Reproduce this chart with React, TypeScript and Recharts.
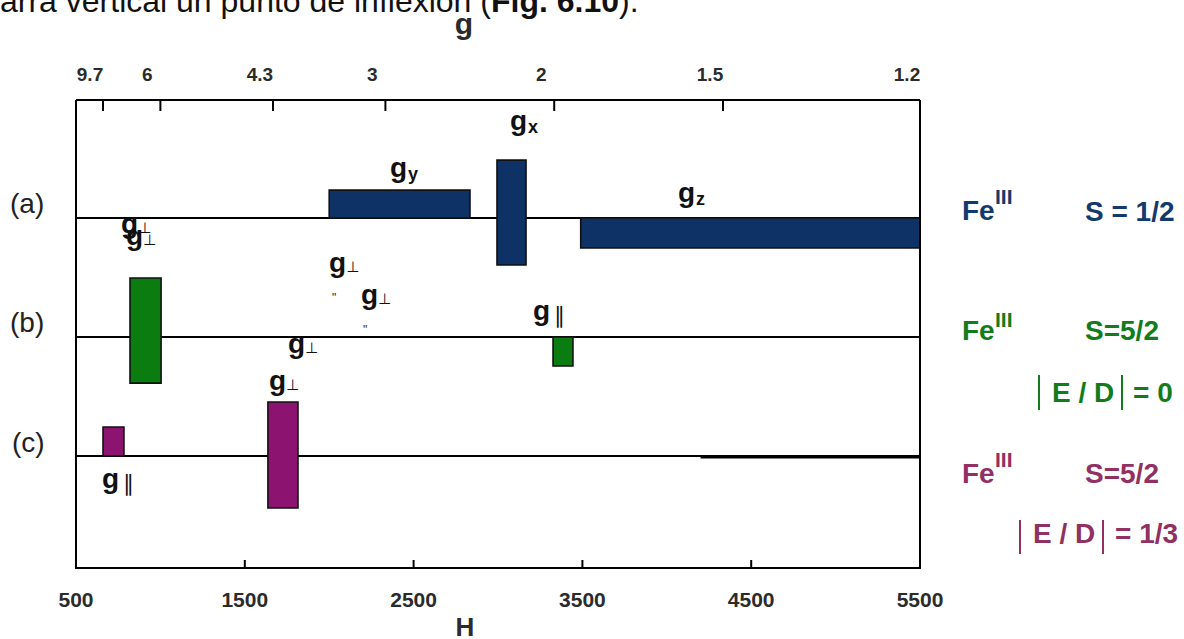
import React from 'react';
import { ComposedChart, XAxis, YAxis, ReferenceArea, ReferenceLine, Scatter } from 'recharts';

// ---- data ----
const FIELD_TICKS = [500, 1500, 2500, 3500, 4500, 5500];
const G_TICK_LABELS = ['9.7', '6', '4.3', '3', '2', '1.5', '1.2'];
const G_TICK_FIELDS = [660, 1000, 1667, 2333, 3333, 4333, 5500];
const ROW_LEVELS = [2, 1, 0]; // (a), (b), (c)

const SERIES_A = [
  { name: 'gy', from: 2000, to: 2834, low: 0, high: 0.235 },
  { name: 'gx', from: 2994, to: 3166, low: -0.395, high: 0.487 },
  { name: 'gz', from: 3490, to: 5500, low: -0.252, high: 0 },
];
const SERIES_B = [
  { name: 'g⊥', from: 820, to: 1004, low: -0.387, high: 0.496 },
  { name: 'g∥', from: 3326, to: 3444, low: -0.244, high: 0 },
];
const SERIES_C = [
  { name: 'g∥', from: 660, to: 784, low: 0, high: 0.244 },
  { name: 'g⊥', from: 1637, to: 1815, low: -0.437, high: 0.454 },
];

const LABELS = [
  { h: 2360, y: 2.345, sub: 'y', kind: 'axis' },
  { h: 3071, y: 2.739, sub: 'x', kind: 'axis' },
  { h: 4066, y: 2.134, sub: 'z', kind: 'axis' },
  { h: 767, y: 1.874, sub: '⊥', kind: 'perp' },
  { h: 796, y: 1.773, sub: '⊥', kind: 'perp' },
  { h: 1999, y: 1.546, sub: '⊥', kind: 'perp' },
  { h: 2017, y: 1.294, sub: '"', kind: 'ditto' },
  { h: 2188, y: 1.277, sub: '⊥', kind: 'perp' },
  { h: 2200, y: 1.025, sub: '"', kind: 'ditto' },
  { h: 3207, y: 1.143, sub: '∥', kind: 'par' },
  { h: 1756, y: 0.866, sub: '⊥', kind: 'perp' },
  { h: 1643, y: 0.555, sub: '⊥', kind: 'perp' },
  { h: 654, y: -0.269, sub: '∥', kind: 'par' },
];

const COLORS = ['#0e3166', '#0b7d10', '#8c1470'];
const TEXT_COLORS = ['#133a6c', '#127c1c', '#913062'];

const FONT = '"Liberation Sans", Arial, sans-serif';
const AXIS_TXT = '#2b2b2b';

const BottomTick = (p: any) => (
  <g>
    <line x1={p.x} x2={p.x} y1={p.y + 1} y2={p.y - 8} stroke="#000" strokeWidth={2} />
    <text x={p.x} y={p.y + 39} textAnchor="middle" fontFamily={FONT} fontWeight={700} fontSize={21} fill={AXIS_TXT}>
      {p.payload.value}
    </text>
  </g>
);

const TopTick = (p: any) => (
  <g>
    <line x1={p.x} x2={p.x} y1={p.y} y2={p.y + 11} stroke="#000" strokeWidth={2} />
    <text x={p.x - 13} y={p.y - 19} textAnchor="middle" fontFamily={FONT} fontWeight={700} fontSize={19} fill={AXIS_TXT}>
      {G_TICK_LABELS[p.index]}
    </text>
  </g>
);

const LabelShape = (p: any) => {
  const d = p.payload;
  if (d.kind === 'ditto') {
    return (
      <text x={p.cx} y={p.cy} fontFamily={FONT} fontSize={12} fill="#222">"</text>
    );
  }
  return (
    <text x={p.cx} y={p.cy} fontFamily={FONT} fontWeight={700} fontSize={28} fill="#111">
      g
      {d.kind === 'axis' && (
        <tspan dx={1} dy={3} fontSize={18} fontWeight={700}>{d.sub}</tspan>
      )}
      {d.kind === 'perp' && (
        <tspan dx={0} fontSize={15} fontWeight={400} fontFamily='"DejaVu Sans", sans-serif'>{d.sub}</tspan>
      )}
      {d.kind === 'par' && (
        <tspan dx={4} dy={3} fontSize={22} fontWeight={400} fontFamily='"DejaVu Sans", sans-serif'>{d.sub}</tspan>
      )}
    </text>
  );
};

const SERIES = [SERIES_A, SERIES_B, SERIES_C];

export default function App() {
  return (
    <div style={{ position: 'absolute', left: 0, top: 0, width: 1184, height: 639, background: '#fff' }}>
      <ComposedChart width={1184} height={639} margin={{ top: 99, right: 264, bottom: 70, left: 76 }}>
        <XAxis
          xAxisId="h"
          dataKey="h"
          type="number"
          domain={[500, 5500]}
          ticks={FIELD_TICKS}
          interval={0}
          allowDataOverflow
          orientation="bottom"
          height={1}
          tickSize={0}
          tickMargin={0}
          tickLine={false}
          axisLine={{ stroke: '#000', strokeWidth: 2 }}
          tick={BottomTick}
        />
        <XAxis
          xAxisId="g"
          dataKey="h"
          type="number"
          domain={[500, 5500]}
          ticks={G_TICK_FIELDS}
          interval={0}
          allowDataOverflow
          orientation="top"
          height={1}
          tickSize={0}
          tickMargin={0}
          tickLine={false}
          axisLine={{ stroke: '#000', strokeWidth: 2 }}
          tick={TopTick}
        />
        <YAxis yAxisId="y" dataKey="y" type="number" domain={[-0.941, 2.992]} allowDataOverflow hide />

        {ROW_LEVELS.map((lvl) => (
          <ReferenceArea
            key={'base' + lvl}
            xAxisId="h"
            yAxisId="y"
            x1={500}
            x2={5500}
            y1={lvl - 0.009}
            y2={lvl + 0.009}
            fill="#000"
            fillOpacity={1}
            stroke="none"
          />
        ))}
        <ReferenceArea xAxisId="h" yAxisId="y" x1={4200} x2={5500} y1={-0.02} y2={-0.003} fill="#000" fillOpacity={1} stroke="none" />

        {SERIES.map((rows, i) =>
          rows.map((b, j) => (
            <ReferenceArea
              key={`bar-${i}-${j}`}
              xAxisId="h"
              yAxisId="y"
              x1={b.from}
              x2={b.to}
              y1={ROW_LEVELS[i] + b.low}
              y2={ROW_LEVELS[i] + b.high}
              fill={COLORS[i]}
              fillOpacity={1}
              stroke="#111"
              strokeWidth={1.6}
            />
          ))
        )}

        <ReferenceLine xAxisId="h" yAxisId="y" x={500} stroke="#000" strokeWidth={2} />
        <ReferenceLine xAxisId="h" yAxisId="y" x={5500} stroke="#000" strokeWidth={2} />

        <Scatter xAxisId="h" yAxisId="y" data={LABELS} shape={LabelShape} isAnimationActive={false} />
      </ComposedChart>

      <svg width={1184} height={639} style={{ position: 'absolute', left: 0, top: 0, pointerEvents: 'none' }}>
        <text x={0} y={12} fontFamily={FONT} fontSize={32} fill="#111">
          arra vertical un punto de inflexión (<tspan fontWeight={700}>Fig. 6.10</tspan>).
        </text>
        <text x={464} y={34} textAnchor="middle" fontFamily={FONT} fontWeight={700} fontSize={30} fill={AXIS_TXT}>g</text>
        <text x={465} y={636} textAnchor="middle" fontFamily={FONT} fontWeight={700} fontSize={26} fill={AXIS_TXT}>H</text>

        <text x={10} y={213} fontFamily={FONT} fontSize={28} fill="#222">(a)</text>
        <text x={10} y={332} fontFamily={FONT} fontSize={28} fill="#222">(b)</text>
        <text x={12} y={452} fontFamily={FONT} fontSize={28} fill="#222">(c)</text>

        {/* legend (a) */}
        <g fontFamily={FONT} fontWeight={700} fill={TEXT_COLORS[0]}>
          <text x={962} y={220} fontSize={28}>Fe</text>
          <text x={995} y={204} fontSize={21}>III</text>
          <text x={1085} y={221} fontSize={28}>S = 1/2</text>
        </g>
        {/* legend (b) */}
        <g fontFamily={FONT} fontWeight={700} fill={TEXT_COLORS[1]}>
          <text x={962} y={340} fontSize={28}>Fe</text>
          <text x={995} y={327} fontSize={21}>III</text>
          <text x={1085} y={340} fontSize={28}>S=5/2</text>
          <line x1={1039} x2={1039} y1={375} y2={410} stroke={TEXT_COLORS[1]} strokeWidth={2} />
          <text x={1052} y={402} fontSize={28}>E / D</text>
          <line x1={1122} x2={1122} y1={375} y2={410} stroke={TEXT_COLORS[1]} strokeWidth={2} />
          <text x={1133} y={402} fontSize={28}>= 0</text>
        </g>
        {/* legend (c) */}
        <g fontFamily={FONT} fontWeight={700} fill={TEXT_COLORS[2]}>
          <text x={962} y={483} fontSize={28}>Fe</text>
          <text x={995} y={467} fontSize={21}>III</text>
          <text x={1085} y={483} fontSize={28}>S=5/2</text>
          <line x1={1020} x2={1020} y1={520} y2={554} stroke={TEXT_COLORS[2]} strokeWidth={2} />
          <text x={1033} y={543} fontSize={28}>E / D</text>
          <line x1={1103} x2={1103} y1={520} y2={554} stroke={TEXT_COLORS[2]} strokeWidth={2} />
          <text x={1115} y={543} fontSize={28}>= 1/3</text>
        </g>
      </svg>
    </div>
  );
}
